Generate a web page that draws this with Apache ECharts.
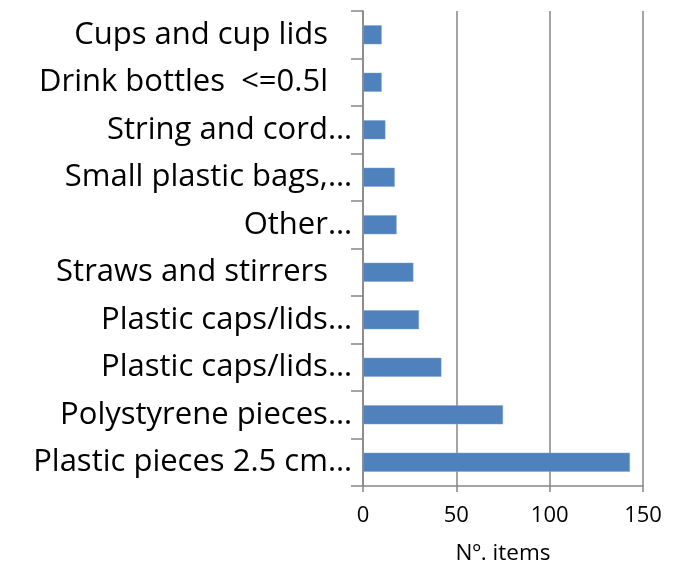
<!DOCTYPE html>
<html>
<head>
<meta charset="utf-8">
<script src="https://cdn.jsdelivr.net/npm/echarts@6/dist/echarts.min.js"></script>
<style>
  html, body { margin: 0; padding: 0; background: #fff; }
  #chart { width: 692px; height: 570px; }
</style>
</head>
<body>
<div id="chart"></div>
<script>
// Litter item categories, listed top to bottom
const categories = [
  'Cups and cup lids',
  'Drink bottles  <=0.5l',
  'String and cord…',
  'Small plastic bags,…',
  'Other…',
  'Straws and stirrers',
  'Plastic caps/lids…',
  'Plastic caps/lids…',
  'Polystyrene pieces…',
  'Plastic pieces 2.5 cm…'
];
// Number of items counted per category
const counts = [10, 10, 12, 17, 18, 27, 30, 42, 75, 143];
// Value axis ticks
const xMin = 0, xMax = 150, xStep = 50;

const FONT = 'Open Sans';
const GRID = '#868686';

const chart = echarts.init(document.getElementById('chart'), null, { renderer: 'canvas' });
chart.setOption({
  animation: false,
  backgroundColor: '#ffffff',
  grid: { left: 363, right: 49, top: 11, bottom: 83, containLabel: false },
  xAxis: {
    type: 'value',
    min: xMin, max: xMax, interval: xStep,
    name: 'Nº. items',
    nameLocation: 'middle',
    nameGap: 56,
    nameTextStyle: { fontFamily: FONT, fontSize: 22.5, color: '#000' },
    axisLine: { show: true, lineStyle: { color: GRID, width: 1.5 } },
    axisTick: { show: true, inside: false, length: 6, lineStyle: { color: GRID, width: 1.5 } },
    axisLabel: { fontFamily: FONT, fontSize: 22, color: '#000', margin: 19 },
    splitLine: { show: true, lineStyle: { color: GRID, width: 1.5 } }
  },
  yAxis: {
    type: 'category',
    inverse: true,
    data: categories,
    axisLine: { show: true, lineStyle: { color: GRID, width: 1.5 } },
    axisTick: { show: true, length: 12, lineStyle: { color: GRID, width: 1.5 } },
    axisLabel: {
      margin: 11,
      formatter: function (v) {
        return v.endsWith('…') ? '{t|' + v + '}' : '{p|' + v + '}';
      },
      rich: {
        t: { fontFamily: FONT, fontSize: 31, color: '#000' },
        p: { fontFamily: FONT, fontSize: 31, color: '#000', padding: [0, 24, 0, 0] }
      }
    }
  },
  series: [{
    type: 'bar',
    data: counts,
    barCategoryGap: '60%',
    itemStyle: { color: '#4F81BD', borderColor: '#7FA3D2', borderWidth: 0.5 }
  }]
});
</script>
</body>
</html>
